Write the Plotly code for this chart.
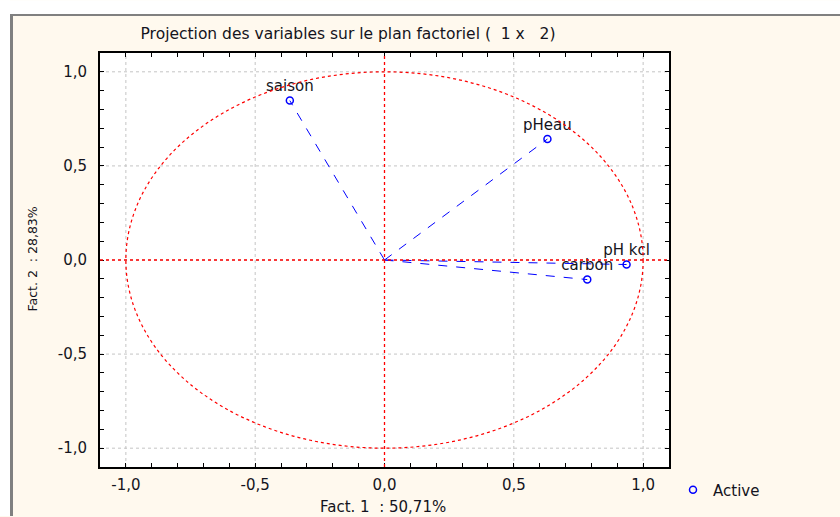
import numpy as np
import plotly.graph_objects as go

variables = ["saison", "pHeau", "pH kcl", "carbon"]
fact1 = [-0.366, 0.630, 0.936, 0.784]
fact2 = [0.847, 0.643, -0.024, -0.104]

grid_vals = [-1.0, -0.5, 0.0, 0.5, 1.0]
tick_vals = [-1.1, -1.0, -0.9, -0.8, -0.7, -0.6, -0.5, -0.4, -0.3, -0.2, -0.1, 0.0,
             0.1, 0.2, 0.3, 0.4, 0.5, 0.6, 0.7, 0.8, 0.9, 1.0, 1.1]
tick_text = ["", "-1,0", "", "", "", "", "-0,5", "", "", "", "", "0,0",
             "", "", "", "", "0,5", "", "", "", "", "1,0", ""]

W, H = 840, 517
L, R, T, B = 100, 669, 53, 468  # plot area in px

def px(xp):
    return (xp - L) / (R - L)

def py(yp):
    return (B - yp) / (B - T)

FONT = "DejaVu Sans"
BLUE = "#0000FF"
RED = "#FF0000"
TXT = "#141420"
GRID = "#C4C4C4"

fig = go.Figure()

# vectors from origin
lx, ly = [], []
for a, b in zip(fact1, fact2):
    lx += [0, a, None]
    ly += [0, b, None]
fig.add_trace(go.Scatter(x=lx, y=ly, mode="lines", showlegend=False, hoverinfo="skip",
                         line=dict(color=BLUE, width=1, dash="dash")))

fig.add_trace(go.Scatter(x=fact1, y=fact2, mode="markers+text", name="Active",
                         text=variables, textposition="top center",
                         textfont=dict(family=FONT, size=15, color=TXT),
                         marker=dict(symbol="circle-open", size=7, color=BLUE,
                                     line=dict(width=1.5, color=BLUE))))

shapes = [
    # frame decoration
    dict(type="rect", xref="paper", yref="paper", x0=px(0), x1=px(10), y0=py(0), y1=py(H),
         fillcolor="white", line=dict(width=0), layer="below"),
    dict(type="rect", xref="paper", yref="paper", x0=px(0), x1=px(W), y0=py(0), y1=py(14),
         fillcolor="white", line=dict(width=0), layer="below"),
    dict(type="rect", xref="paper", yref="paper", x0=px(10), x1=px(13), y0=py(14), y1=py(H),
         fillcolor="#808080", line=dict(width=0), layer="below"),
    dict(type="rect", xref="paper", yref="paper", x0=px(10), x1=px(W), y0=py(14), y1=py(16),
         fillcolor="#808080", line=dict(width=0), layer="below"),
]
# dotted gridlines at labelled ticks
for g in grid_vals:
    shapes.append(dict(type="line", xref="x", yref="y domain", x0=g, x1=g, y0=0, y1=1,
                       line=dict(color=GRID, width=1, dash="dot"), layer="below"))
    shapes.append(dict(type="line", xref="x domain", yref="y", x0=0, x1=1, y0=g, y1=g,
                       line=dict(color=GRID, width=1, dash="dot"), layer="below"))
shapes += [
    # correlation circle and axes through origin
    dict(type="circle", xref="x", yref="y", x0=-1, y0=-1, x1=1, y1=1,
         line=dict(color=RED, width=1.2, dash="dot")),
    dict(type="line", xref="x", yref="y domain", x0=0, x1=0, y0=0, y1=1,
         line=dict(color=RED, width=1.3, dash="dot")),
    dict(type="line", xref="x domain", yref="y", x0=0, x1=1, y0=0, y1=0,
         line=dict(color=RED, width=1.3, dash="dot")),
]

axis_common = dict(
    range=[-1.1, 1.1], showline=True, linecolor="black", linewidth=2, mirror="ticks",
    tickmode="array", tickvals=tick_vals, ticktext=tick_text,
    ticks="inside", ticklen=4, tickcolor="black", tickwidth=1,
    showgrid=False, zeroline=False,
    tickfont=dict(family=FONT, size=15, color=TXT),
)

fig.update_layout(
    width=W, height=H,
    margin=dict(l=L, r=W - R, t=T, b=H - B),
    paper_bgcolor="#FFF9EE", plot_bgcolor="white",
    shapes=shapes,
    xaxis=dict(ticklabelstandoff=3, **axis_common),
    yaxis=dict(ticklabelstandoff=8, **axis_common),
    title=dict(text="Projection des variables sur le plan factoriel (  1 x   2)",
               x=348 / W, xanchor="center", y=1 - 34 / H, yanchor="middle",
               font=dict(family=FONT, size=15.5, color=TXT)),
    showlegend=True,
    legend=dict(x=px(673), y=py(490), xanchor="left", yanchor="middle",
                bgcolor="rgba(0,0,0,0)", itemwidth=30,
                font=dict(family=FONT, size=15, color=TXT)),
    annotations=[
        dict(text="Fact. 1  : 50,71%", xref="paper", yref="paper", x=px(383), y=py(508),
             xanchor="center", yanchor="middle", showarrow=False,
             font=dict(family=FONT, size=15, color=TXT)),
        dict(text="Fact. 2  : 28,83%", xref="paper", yref="paper", x=px(33), y=py(260),
             xanchor="center", yanchor="middle", showarrow=False, textangle=-90,
             font=dict(family=FONT, size=12.5, color=TXT)),
    ],
)

fig.write_html("out.html")
